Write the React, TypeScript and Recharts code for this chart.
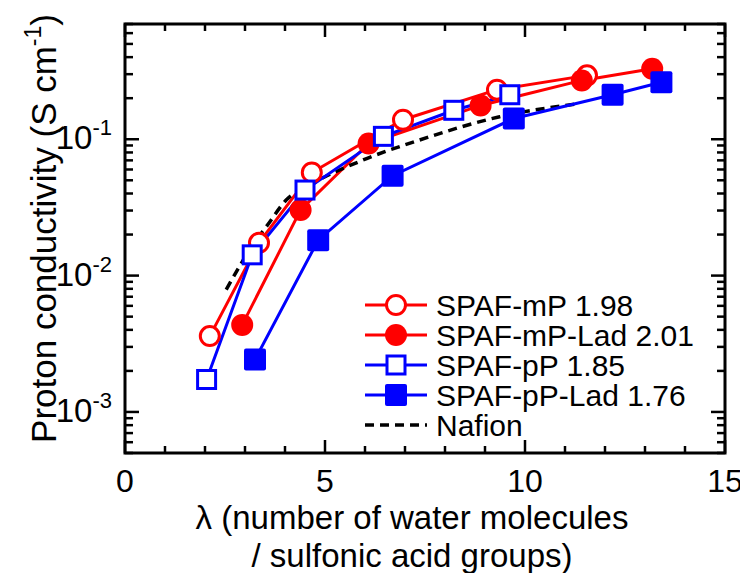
import { LineChart, Line, XAxis, YAxis, Legend, ReferenceArea, ReferenceLine } from 'recharts'

const FONT = '"Liberation Sans", Arial, sans-serif'

// lambda (x) and conductivity in S/cm (y)
const mpX = [2.12, 3.35, 4.67, 6.95, 9.3, 11.55]
const mpY = [0.0036, 0.0174, 0.057, 0.139, 0.231, 0.294]
const mpLadX = [2.93, 4.39, 6.09, 8.89, 11.42, 13.18]
const mpLadY = [0.00435, 0.0303, 0.093, 0.177, 0.27, 0.329]
const ppX = [2.04, 3.18, 4.5, 6.46, 8.22, 9.62]
const ppY = [0.00173, 0.0142, 0.0424, 0.105, 0.163, 0.212]
const ppLadX = [3.25, 4.83, 6.69, 9.72, 12.19, 13.41]
const ppLadY = [0.00242, 0.0182, 0.054, 0.142, 0.212, 0.262]
const nafionX = [2.53, 3.28, 3.53, 4.03, 4.69, 5.94, 7.35, 9.34, 11.34]
const nafionY = [0.0079, 0.0182, 0.0228, 0.0358, 0.0474, 0.0702, 0.0984, 0.1456, 0.1825]

const seriesNames = ['SPAF-mP 1.98', 'SPAF-mP-Lad 2.01', 'SPAF-pP 1.85', 'SPAF-pP-Lad 1.76', 'Nafion']

const xDomain = [0, 15]
const yDomain = [0.0005, 0.7]
const xTicks = [0, 1, 2, 3, 4, 5, 6, 7, 8, 9, 10, 11, 12, 13, 14, 15]
const yTicks = [
  0.0005, 0.0006, 0.0007, 0.0008, 0.0009,
  0.001, 0.002, 0.003, 0.004, 0.005, 0.006, 0.007, 0.008, 0.009,
  0.01, 0.02, 0.03, 0.04, 0.05, 0.06, 0.07, 0.08, 0.09,
  0.1, 0.2, 0.3, 0.4, 0.5, 0.6, 0.7,
]

const toPoints = (xs: number[], ys: number[]) => xs.map((x, i) => ({ x, y: ys[i] }))
const mpData = toPoints(mpX, mpY)
const mpLadData = toPoints(mpLadX, mpLadY)
const ppData = toPoints(ppX, ppY)
const ppLadData = toPoints(ppLadX, ppLadY)
const nafionData = toPoints(nafionX, nafionY)

const RED = '#ff0000'
const BLUE = '#0000ff'

// plot box is 600 x 429 px: turns tick lengths in px into data units
const PLOT_W = 600
const PLOT_H = 429
const xPerPx = (xDomain[1] - xDomain[0]) / PLOT_W
const decPerPx = Math.log10(yDomain[1] / yDomain[0]) / PLOT_H

const isDecade = (v: number) => Math.abs(Math.log10(v) - Math.round(Math.log10(v))) < 1e-6
const xLen = (v: number) => (v % 5 === 0 ? 13 : 7)
const yLen = (v: number) => (isDecade(v) ? 14 : 8)

function Marker({ kind, cx, cy }: { kind: string; cx: number; cy: number }) {
  if (kind === 'openCircle')
    return <circle cx={cx} cy={cy} r={9.5} fill="#fff" stroke={RED} strokeWidth={3} />
  if (kind === 'filledCircle') return <circle cx={cx} cy={cy} r={11} fill={RED} />
  if (kind === 'openSquare')
    return <rect x={cx - 9} y={cy - 9} width={18} height={18} fill="#fff" stroke={BLUE} strokeWidth={3} />
  return <rect x={cx - 11} y={cy - 11} width={22} height={22} rx={2} fill={BLUE} />
}

const dotOf = (kind: string) => (p: any) => (
  <Marker key={`${kind}-${p.index}`} kind={kind} cx={p.cx} cy={p.cy} />
)

function BottomTick({ x, y, payload }: any) {
  if (payload.value % 5 !== 0) return <g />
  return (
    <text x={x} y={y + 39} textAnchor="middle" fontSize={32} fontFamily={FONT} fill="#000">
      {payload.value}
    </text>
  )
}

function LeftTick({ x, y, payload }: any) {
  if (!isDecade(payload.value)) return <g />
  return (
    <text x={x - 13} y={y + 10} textAnchor="end" fontSize={33} fontFamily={FONT} fill="#000">
      10
      <tspan dy={-14} fontSize={22}>
        {Math.round(Math.log10(payload.value))}
      </tspan>
    </text>
  )
}

function XTitle({ viewBox }: any) {
  const vb = viewBox || { x: 117, y: 445, width: 600, height: 120 }
  const cx = vb.x + vb.width / 2 - 13
  return (
    <text textAnchor="middle" fontSize={33} fontFamily={FONT} fill="#000">
      <tspan x={cx} y={vb.y + 76}>λ (number of water molecules</tspan>
      <tspan x={cx} y={vb.y + 114}>/ sulfonic acid groups)</tspan>
    </text>
  )
}

function YTitle({ viewBox }: any) {
  const vb = viewBox || { x: 0, y: 16, width: 117, height: 429 }
  const cx = vb.x + 48
  const cy = vb.y + vb.height / 2 - 10
  return (
    <text
      x={cx}
      y={cy}
      transform={`rotate(-90, ${cx}, ${cy})`}
      textAnchor="middle"
      fontSize={35}
      fontFamily={FONT}
      fill="#000"
    >
      Proton conductivity (S cm
      <tspan dy={-15} fontSize={23}>-1</tspan>
      <tspan dy={15}>)</tspan>
    </text>
  )
}

const legendRows = [
  { kind: 'openCircle', color: RED },
  { kind: 'filledCircle', color: RED },
  { kind: 'openSquare', color: BLUE },
  { kind: 'filledSquare', color: BLUE },
  { kind: 'dash', color: '#000' },
]

function LegendBox() {
  return (
    <svg width={370} height={160} style={{ display: 'block' }}>
      {legendRows.map((r, i) => {
        const cy = 15 + i * 30
        return (
          <g key={i}>
            <line
              x1={7}
              x2={69}
              y1={cy}
              y2={cy}
              stroke={r.color}
              strokeWidth={r.kind === 'dash' ? 3.5 : 3}
              strokeDasharray={r.kind === 'dash' ? '9 6' : undefined}
            />
            {r.kind !== 'dash' && <Marker kind={r.kind} cx={38} cy={cy} />}
            <text x={78} y={cy + 10.5} fontSize={30} fontFamily={FONT} fill="#000">
              {seriesNames[i]}
            </text>
          </g>
        )
      })}
    </svg>
  )
}

const tickStyle = { stroke: '#000', strokeWidth: 2.5, ifOverflow: 'visible' as const }

export default function App() {
  const ids = { xAxisId: 'b', yAxisId: 'l' }
  return (
    <LineChart width={740} height={565} margin={{ top: 16, right: 23, left: 0, bottom: 0 }}>
      <XAxis
        xAxisId="b"
        type="number"
        dataKey="x"
        domain={xDomain}
        ticks={xTicks}
        interval={0}
        allowDataOverflow
        height={120}
        tickSize={0}
        tickMargin={0}
        tickLine={false}
        axisLine={false}
        tick={<BottomTick />}
        label={<XTitle />}
      />
      <YAxis
        yAxisId="l"
        type="number"
        scale="log"
        domain={yDomain}
        ticks={yTicks}
        interval={0}
        allowDataOverflow
        width={117}
        tickSize={0}
        tickMargin={0}
        tickLine={false}
        axisLine={false}
        tick={<LeftTick />}
        label={<YTitle />}
      />

      {/* inward ticks on all four sides */}
      {xTicks.map((t) => (
        <ReferenceLine
          key={`xb${t}`}
          {...ids}
          {...tickStyle}
          segment={[{ x: t, y: yDomain[0] }, { x: t, y: yDomain[0] * Math.pow(10, xLen(t) * decPerPx) }]}
        />
      ))}
      {xTicks.map((t) => (
        <ReferenceLine
          key={`xt${t}`}
          {...ids}
          {...tickStyle}
          segment={[{ x: t, y: yDomain[1] }, { x: t, y: yDomain[1] / Math.pow(10, xLen(t) * decPerPx) }]}
        />
      ))}
      {yTicks.map((t) => (
        <ReferenceLine
          key={`yl${t}`}
          {...ids}
          {...tickStyle}
          segment={[{ x: xDomain[0], y: t }, { x: xDomain[0] + yLen(t) * xPerPx, y: t }]}
        />
      ))}
      {yTicks.map((t) => (
        <ReferenceLine
          key={`yr${t}`}
          {...ids}
          {...tickStyle}
          segment={[{ x: xDomain[1], y: t }, { x: xDomain[1] - yLen(t) * xPerPx, y: t }]}
        />
      ))}
      <ReferenceArea
        {...ids}
        x1={xDomain[0]}
        x2={xDomain[1]}
        y1={yDomain[0]}
        y2={yDomain[1]}
        ifOverflow="visible"
        fill="none"
        stroke="#000"
        strokeWidth={3}
      />

      <Legend
        layout="horizontal"
        verticalAlign="middle"
        align="center"
        wrapperStyle={{ position: 'absolute', left: 350, top: 282, width: 370, height: 160 }}
        content={() => <LegendBox />}
      />
      <Line
        {...ids}
        data={mpData}
        dataKey="y"
        name={seriesNames[0]}
        stroke={RED}
        strokeWidth={3}
        dot={dotOf('openCircle')}
        isAnimationActive={false}
      />
      <Line
        {...ids}
        data={mpLadData}
        dataKey="y"
        name={seriesNames[1]}
        stroke={RED}
        strokeWidth={3}
        dot={dotOf('filledCircle')}
        isAnimationActive={false}
      />
      <Line
        {...ids}
        data={nafionData}
        dataKey="y"
        name={seriesNames[4]}
        type="monotone"
        stroke="#000"
        strokeWidth={3.5}
        strokeDasharray="9 6"
        dot={false}
        isAnimationActive={false}
      />
      <Line
        {...ids}
        data={ppData}
        dataKey="y"
        name={seriesNames[2]}
        stroke={BLUE}
        strokeWidth={3}
        dot={dotOf('openSquare')}
        isAnimationActive={false}
      />
      <Line
        {...ids}
        data={ppLadData}
        dataKey="y"
        name={seriesNames[3]}
        stroke={BLUE}
        strokeWidth={3}
        dot={dotOf('filledSquare')}
        isAnimationActive={false}
      />
    </LineChart>
  )
}
